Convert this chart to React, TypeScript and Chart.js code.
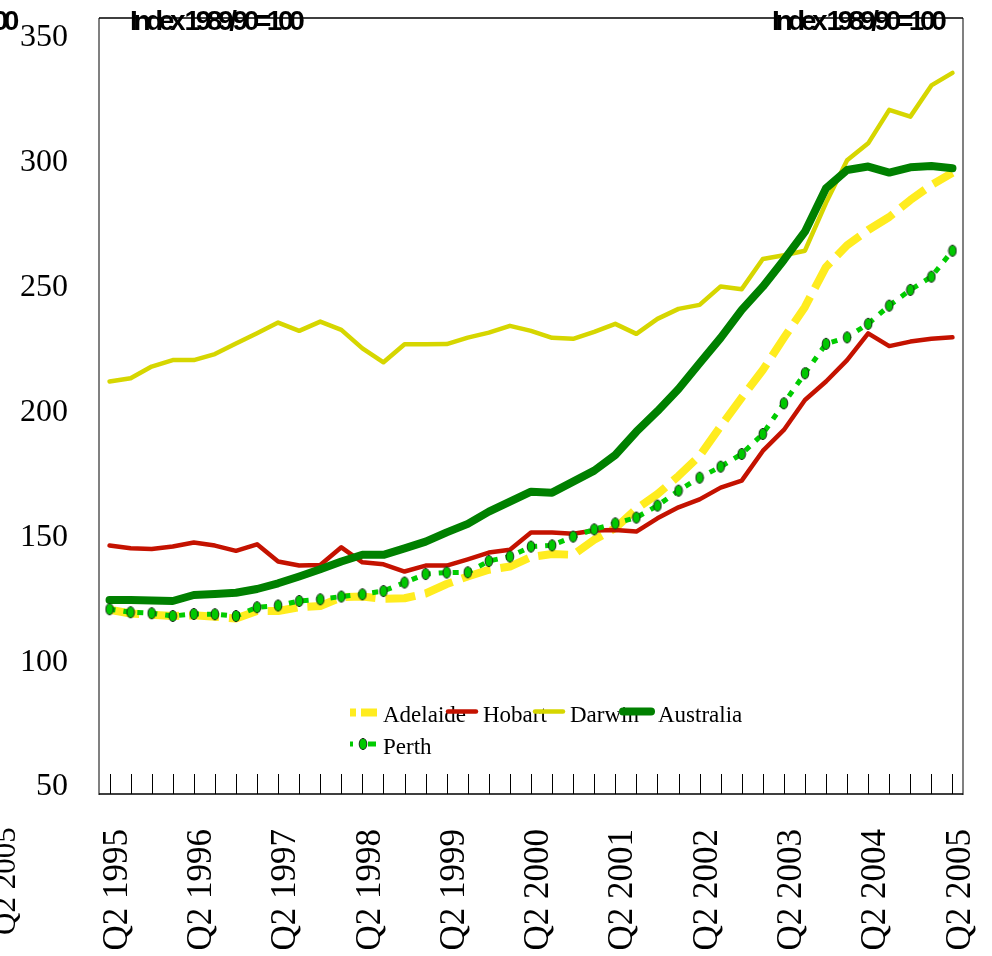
import React, { useEffect, useRef } from 'react';
import { Chart, registerables } from 'chart.js';

Chart.register(...registerables);

const categories = [
  'Q2 1995', 'Q3 1995', 'Q4 1995', 'Q1 1996',
  'Q2 1996', 'Q3 1996', 'Q4 1996', 'Q1 1997',
  'Q2 1997', 'Q3 1997', 'Q4 1997', 'Q1 1998',
  'Q2 1998', 'Q3 1998', 'Q4 1998', 'Q1 1999',
  'Q2 1999', 'Q3 1999', 'Q4 1999', 'Q1 2000',
  'Q2 2000', 'Q3 2000', 'Q4 2000', 'Q1 2001',
  'Q2 2001', 'Q3 2001', 'Q4 2001', 'Q1 2002',
  'Q2 2002', 'Q3 2002', 'Q4 2002', 'Q1 2003',
  'Q2 2003', 'Q3 2003', 'Q4 2003', 'Q1 2004',
  'Q2 2004', 'Q3 2004', 'Q4 2004', 'Q1 2005',
  'Q2 2005',
];

const adelaide = [
  121.0, 119.5, 119.0, 118.5, 118.8, 118.2, 117.5, 120.5, 120.5, 122.0,
  122.5, 126.0, 126.3, 125.4, 125.6, 127.5, 131.3, 134.3, 137.0, 138.3,
  142.1, 143.3, 143.0, 149.0, 153.7, 161.4, 167.3, 174.6, 182.6, 194.5,
  206.0, 217.0, 229.9, 242.3, 258.3, 267.0, 273.1, 278.3, 285.1, 291.1,
  296.0,
];

const hobart = [
  146.7, 145.6, 145.3, 146.3, 147.9, 146.7, 144.6, 147.2, 140.3, 138.7,
  138.9, 146.0, 140.0, 139.2, 136.3, 138.7, 138.7, 141.2, 143.9, 145.0,
  151.9, 151.9, 151.4, 152.7, 152.9, 152.3, 157.6, 162.0, 165.2, 169.9,
  172.7, 184.6, 193.0, 205.0, 212.4, 221.0, 231.7, 226.6, 228.4, 229.5,
  230.1,
];

const darwin = [
  212.4, 213.7, 218.4, 221.0, 221.0, 223.4, 227.6, 231.7, 236.0, 232.7,
  236.4, 233.1, 225.7, 220.1, 227.3, 227.3, 227.4, 230.0, 232.0, 234.7,
  232.7, 229.9, 229.5, 232.3, 235.5, 231.5, 237.5, 241.5, 243.1, 250.5,
  249.4, 261.5, 263.0, 264.8, 284.0, 301.0, 307.8, 321.2, 318.5, 331.0,
  336.0,
];

const australia = [
  124.9, 124.9, 124.7, 124.5, 126.9, 127.3, 127.8, 129.3, 131.6, 134.3,
  137.2, 140.3, 143.0, 143.0, 145.6, 148.3, 152.0, 155.4, 160.3, 164.3,
  168.3, 167.9, 172.3, 176.7, 183.0, 192.3, 200.5, 209.4, 219.7, 229.9,
  241.1, 250.4, 261.1, 272.4, 289.8, 297.1, 298.5, 296.1, 298.2, 298.7,
  297.8,
];

const perth = [
  121.2, 120.0, 119.6, 118.5, 119.3, 119.2, 118.5, 122.0, 122.7, 124.5,
  125.2, 126.3, 127.2, 128.5, 131.9, 135.3, 135.9, 136.0, 140.5, 142.3,
  146.3, 146.8, 150.3, 153.2, 155.6, 157.9, 162.7, 168.7, 173.9, 178.3,
  183.4, 191.4, 203.7, 215.7, 227.5, 230.1, 235.5, 242.8, 249.1, 254.4,
  264.8,
];

const seriesNames = ['Adelaide', 'Hobart', 'Darwin', 'Australia', 'Perth'];
const yTickValues = [50, 100, 150, 200, 250, 300, 350];
const yMin = 47.2;
const yMax = 358;
const indexTitle = 'Index 1989/90=100';
const labelEvery = 4;

const SERIF = '"Liberation Serif", "Times New Roman", Times, serif';
const SANS = '"Liberation Sans", Arial, Helvetica, sans-serif';

function makeMarker(): HTMLCanvasElement {
  const c = document.createElement('canvas');
  c.width = 10;
  c.height = 14;
  const g = c.getContext('2d');
  if (g) {
    g.beginPath();
    g.ellipse(5, 7, 3.8, 5.6, 0, 0, Math.PI * 2);
    g.fillStyle = '#00c800';
    g.fill();
    g.lineWidth = 1;
    g.strokeStyle = '#1b2b1b';
    g.stroke();
  }
  return c;
}

function zeroPadding(s: any) {
  s.paddingLeft = 0;
  s.paddingRight = 0;
  s.paddingTop = 0;
  s.paddingBottom = 0;
}

const decorPlugin = {
  id: 'decor',
  afterDraw(chart: any) {
    const { ctx, chartArea: a, scales } = chart;
    const xs = scales.x;
    ctx.save();

    // frame
    ctx.lineWidth = 2;
    ctx.strokeStyle = '#808080';
    ctx.beginPath();
    ctx.moveTo(a.left, a.top);
    ctx.lineTo(a.left, a.bottom + 1);
    ctx.moveTo(a.right, a.top);
    ctx.lineTo(a.right, a.bottom + 1);
    ctx.stroke();
    ctx.lineWidth = 1.5;
    ctx.strokeStyle = '#000';
    ctx.beginPath();
    ctx.moveTo(a.left, a.top);
    ctx.lineTo(a.right, a.top);
    ctx.moveTo(a.left, a.bottom);
    ctx.lineTo(a.right, a.bottom);
    ctx.stroke();

    // inner category ticks
    ctx.lineWidth = 1;
    ctx.beginPath();
    for (let i = 0; i < categories.length; i++) {
      const px = Math.round(xs.getPixelForValue(i)) + 0.5;
      ctx.moveTo(px, a.bottom);
      ctx.lineTo(px, a.bottom - 20);
    }
    ctx.stroke();

    // titles
    ctx.fillStyle = '#000';
    ctx.font = 'bold 28px ' + SANS;
    (ctx as any).letterSpacing = '-4.4px';
    ctx.textBaseline = 'alphabetic';
    ctx.textAlign = 'left';
    ctx.fillText(indexTitle, 130, 30);
    ctx.fillText(indexTitle, 772, 30);
    ctx.textAlign = 'right';
    ctx.fillText(indexTitle, 15, 30);
    (ctx as any).letterSpacing = '0px';

    // clipped stray label at far left
    ctx.save();
    ctx.font = '31px ' + SERIF;
    ctx.translate(15, 935);
    ctx.rotate(-Math.PI / 2);
    ctx.textAlign = 'left';
    ctx.fillText(categories[categories.length - 1], 0, 0);
    ctx.restore();

    // legend
    const ds = chart.data.datasets;
    const items = [
      { sx: 350, sy: 712.5, tx: 383, ty: 722 },
      { sx: 448, sy: 711.5, tx: 483, ty: 722 },
      { sx: 535, sy: 711.5, tx: 570, ty: 722 },
      { sx: 623, sy: 711.5, tx: 658, ty: 722 },
      { sx: 350, sy: 744, tx: 383, ty: 754 },
    ];
    ctx.font = '23px ' + SERIF;
    ctx.textAlign = 'left';
    ctx.textBaseline = 'alphabetic';
    for (let i = 0; i < ds.length; i++) {
      const d = ds[i];
      const it = items[i];
      ctx.fillStyle = '#000';
      ctx.fillText(d.label, it.tx, it.ty);
    }
    for (let i = 0; i < ds.length; i++) {
      const d = ds[i];
      const it = items[i];
      ctx.save();
      ctx.strokeStyle = d.borderColor;
      ctx.lineWidth = d.borderWidth;
      ctx.lineCap = d.borderDash ? 'butt' : 'round';
      if (i === 0) ctx.setLineDash([6, 5, 17]);
      else if (i === 4) ctx.setLineDash([3, 15, 8]);
      else ctx.setLineDash([]);
      const len = i === 0 || i === 4 ? 27 : 28;
      ctx.beginPath();
      ctx.moveTo(it.sx, it.sy);
      ctx.lineTo(it.sx + len, it.sy);
      ctx.stroke();
      if (i === 4 && d.pointStyle) {
        ctx.setLineDash([]);
        const m = d.pointStyle as HTMLCanvasElement;
        ctx.drawImage(m, it.sx + 13 - m.width / 2, it.sy - m.height / 2);
      }
      ctx.restore();
    }

    ctx.restore();
  },
};

export default function App() {
  const ref = useRef<HTMLCanvasElement | null>(null);

  useEffect(() => {
    if (!ref.current) return;
    const marker = makeMarker();
    const chart = new Chart(ref.current, {
      type: 'line',
      data: {
        labels: categories,
        datasets: [
          {
            label: seriesNames[0],
            data: adelaide,
            borderColor: '#ffec1f',
            backgroundColor: '#ffec1f',
            borderWidth: 8,
            borderDash: [30, 10],
            borderCapStyle: 'butt',
            borderJoinStyle: 'round',
            pointRadius: 0,
            order: 4,
          },
          {
            label: seriesNames[1],
            data: hobart,
            borderColor: '#c41200',
            backgroundColor: '#c41200',
            borderWidth: 4.5,
            borderCapStyle: 'round',
            borderJoinStyle: 'round',
            pointRadius: 0,
            order: 3,
          },
          {
            label: seriesNames[2],
            data: darwin,
            borderColor: '#d6d600',
            backgroundColor: '#d6d600',
            borderWidth: 4.5,
            borderCapStyle: 'round',
            borderJoinStyle: 'round',
            pointRadius: 0,
            order: 2,
          },
          {
            label: seriesNames[3],
            data: australia,
            borderColor: '#008000',
            backgroundColor: '#008000',
            borderWidth: 8,
            borderCapStyle: 'round',
            borderJoinStyle: 'round',
            pointRadius: 0,
            order: 1,
          },
          {
            label: seriesNames[4],
            data: perth,
            borderColor: '#00cc00',
            backgroundColor: '#00c800',
            borderWidth: 5,
            borderDash: [6, 8],
            borderCapStyle: 'butt',
            pointStyle: marker as any,
            pointRadius: 6,
            order: 0,
          },
        ] as any,
      },
      options: {
        responsive: false,
        animation: false,
        devicePixelRatio: 1,
        layout: { padding: { top: 18, right: 29, left: 0, bottom: 0 } },
        elements: { line: { tension: 0 } },
        plugins: {
          legend: { display: false },
          tooltip: { enabled: false },
        },
        events: [],
        scales: {
          x: {
            type: 'category',
            offset: true,
            grid: { display: false, drawTicks: false },
            border: { display: false },
            ticks: {
              autoSkip: false,
              minRotation: 90,
              maxRotation: 90,
              padding: 35,
              labelOffset: 8,
              color: '#000',
              font: { family: SERIF, size: 35 },
              callback: function (this: any, value: any, index: number) {
                return index % labelEvery === 0 ? categories[index] : '';
              },
            },
            afterFit: (s: any) => {
              s.height = 162;
              zeroPadding(s);
            },
          },
          y: {
            type: 'linear',
            min: yMin,
            max: yMax,
            grid: { display: false, drawTicks: false },
            border: { display: false },
            ticks: {
              padding: 31,
              color: '#000',
              font: { family: SERIF, size: 32 },
            },
            afterBuildTicks: (s: any) => {
              s.ticks = yTickValues.map((v) => ({ value: v }));
            },
            afterFit: (s: any) => {
              s.width = 99;
              zeroPadding(s);
            },
          },
        },
      } as any,
      plugins: [decorPlugin],
    });
    return () => chart.destroy();
  }, []);

  return (
    <div
      style={{
        position: 'absolute',
        left: 0,
        top: 0,
        width: 992,
        height: 956,
        background: '#fff',
        overflow: 'hidden',
      }}
    >
      <canvas ref={ref} width={992} height={956} style={{ display: 'block' }} />
    </div>
  );
}
